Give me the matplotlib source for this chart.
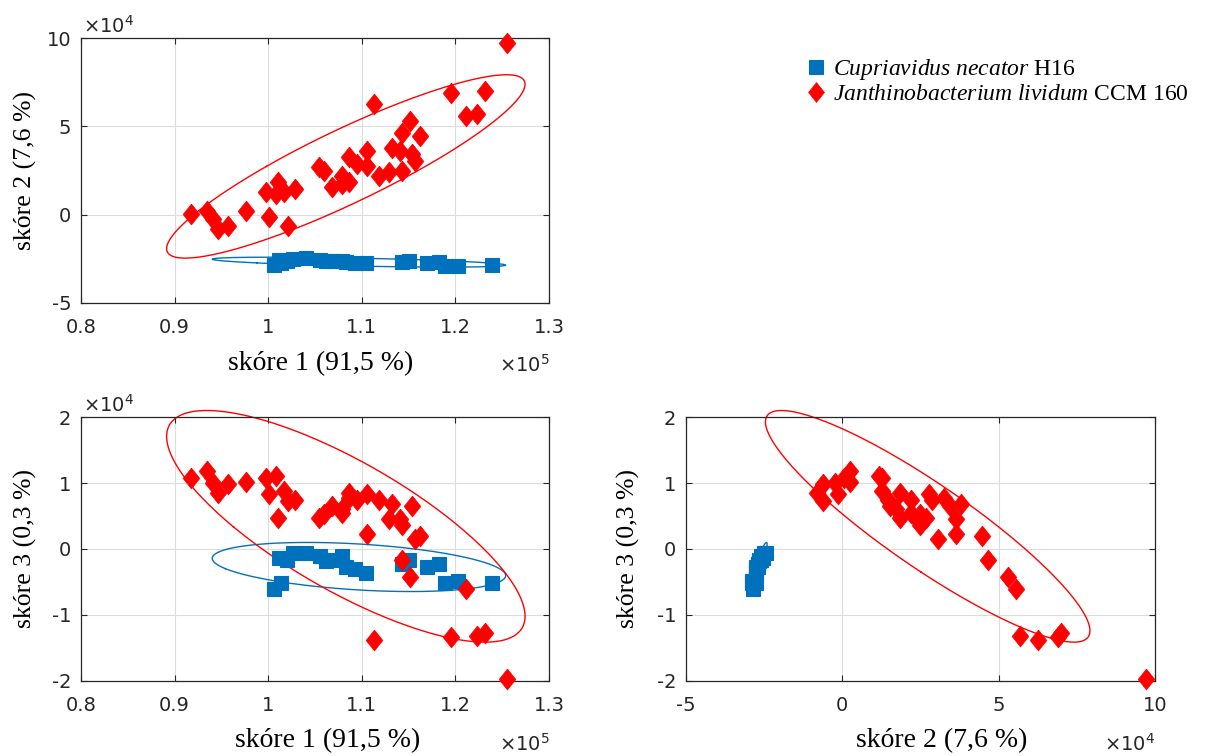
import numpy as np
import matplotlib
matplotlib.use('Agg')
import matplotlib.pyplot as plt
from matplotlib.ticker import FuncFormatter

plt.rcParams['font.family'] = ['DejaVu Sans']
plt.rcParams['xtick.labelsize'] = 14
plt.rcParams['ytick.labelsize'] = 14
plt.rcParams['mathtext.fontset'] = 'custom'
plt.rcParams['mathtext.rm'] = 'Liberation Serif'
plt.rcParams['mathtext.it'] = 'Liberation Serif:italic'
plt.rcParams['mathtext.sf'] = 'DejaVu Sans'

# score values: skore1 in 1e5 units, skore2 / skore3 in 1e4 units
# Cupriavidus necator H16
cn_s1 = [1.006, 1.014, 1.012, 1.020, 1.027, 1.040, 1.055, 1.062, 1.068, 1.079,
         1.083, 1.093, 1.104, 1.143, 1.150, 1.170, 1.182, 1.189, 1.203, 1.239]
cn_s2 = [-2.85, -2.75, -2.55, -2.60, -2.50, -2.45, -2.55, -2.65, -2.60, -2.60,
         -2.70, -2.75, -2.75, -2.70, -2.65, -2.75, -2.70, -2.90, -2.90, -2.85]
cn_s3 = [-0.61, -0.51, -0.13, -0.16, -0.06, -0.06, -0.11, -0.18, -0.16, -0.11,
         -0.28, -0.31, -0.36, -0.23, -0.16, -0.28, -0.23, -0.51, -0.49, -0.51]

# Janthinobacterium lividum CCM 160
jl_s1 = [0.918, 0.935, 0.941, 0.946, 0.957, 0.976, 0.998, 1.010, 1.008, 1.017,
         1.029, 1.001, 1.021, 1.054, 1.060, 1.068, 1.079, 1.079, 1.086, 1.086,
         1.095, 1.106, 1.106, 1.113, 1.118, 1.129, 1.132, 1.143, 1.141, 1.143,
         1.151, 1.154, 1.157, 1.162, 1.195, 1.211, 1.223, 1.232, 1.255]
jl_s2 = [0.04, 0.23, -0.24, -0.81, -0.62, 0.23, 1.26, 1.83, 1.17, 1.26,
         1.45, -0.15, -0.62, 2.67, 2.49, 1.54, 1.73, 2.20, 3.24, 1.83,
         2.86, 3.62, 2.77, 6.25, 2.20, 2.39, 3.80, 2.49, 3.62, 4.65,
         5.31, 3.43, 3.05, 4.46, 6.91, 5.56, 5.69, 6.99, 9.70]
jl_s3 = [1.07, 1.18, 1.00, 0.85, 0.98, 1.02, 1.08, 0.47, 1.11, 0.88,
         0.75, 0.83, 0.73, 0.47, 0.53, 0.65, 0.60, 0.55, 0.78, 0.85,
         0.75, 0.22, 0.83, -1.38, 0.75, 0.45, 0.68, 0.37, 0.45, -0.16,
         -0.43, 0.65, 0.15, 0.20, -1.34, -0.61, -1.32, -1.27, -1.97]

BLUE = '#0072BD'
RED = '#FF0000'
TXT = '#262626'
K_ELL = 2.18

diamond = [(0, 1), (0.8, 0), (0, -1), (-0.8, 0), (0, 1)]


def ellipse(x, y, k=K_ELL):
    x = np.asarray(x)
    y = np.asarray(y)
    cov = np.cov(x, y)
    vals, vecs = np.linalg.eigh(cov)
    t = np.linspace(0, 2 * np.pi, 300)
    circ = np.vstack([np.cos(t), np.sin(t)])
    pts = vecs @ (np.sqrt(vals)[:, None] * circ) * k
    return x.mean() + pts[0], y.mean() + pts[1]


def panel(ax, x1, y1, x2, y2):
    ex, ey = ellipse(x1, y1)
    ax.plot(ex, ey, color=BLUE, lw=1.0, zorder=2)
    ex, ey = ellipse(x2, y2)
    ax.plot(ex, ey, color=RED, lw=1.0, zorder=2)
    ax.plot(x1, y1, 's', color=BLUE, ms=10, mec=BLUE, mew=0.8, ls='none',
            zorder=3, label=r'$\mathit{Cupriavidus\ necator}$ H16')
    ax.plot(x2, y2, marker=diamond, color=RED, ms=15, mec=RED, mew=0.5, ls='none',
            zorder=3, label=r'$\mathit{Janthinobacterium\ lividum}$ CCM 160')
    ax.grid(True, color='#dcdcdc', lw=0.8)
    ax.set_axisbelow(True)
    ax.tick_params(direction='in', length=4, top=True, right=True, color=TXT,
                   labelcolor=TXT, width=0.8)
    ax.tick_params(axis='x', pad=11)
    ax.tick_params(axis='y', pad=7)
    for sp in ax.spines.values():
        sp.set_color(TXT)
        sp.set_linewidth(0.9)
    ax.xaxis.set_major_formatter(FuncFormatter(lambda v, p: '%g' % v))
    ax.yaxis.set_major_formatter(FuncFormatter(lambda v, p: '%g' % v))
    for ln in ax.lines:
        ln.set_clip_on(False)


fig = plt.figure(figsize=(12.18, 7.56), dpi=100)
W, H = 1218, 756


def add_axes(l, t, r, b):
    return fig.add_axes([l / W, 1 - b / H, (r - l) / W, (b - t) / H])


ax1 = add_axes(81, 38, 549, 303)
ax2 = add_axes(81, 417, 549, 681)
ax3 = add_axes(686, 417, 1155, 681)

xlab_font = dict(family='Liberation Serif', size=20, color='black')
ylab_font = dict(family='Liberation Serif', size=18.5, color='black')

# skore 1 vs skore 2
panel(ax1, cn_s1, cn_s2, jl_s1, jl_s2)
ax1.set_xlim(0.8, 1.3)
ax1.set_ylim(-5, 10)
ax1.set_xticks([0.8, 0.9, 1.0, 1.1, 1.2, 1.3])
ax1.set_yticks([-5, 0, 5, 10])
ax1.set_xlabel('skóre 1 (91,5 %)', fontdict=xlab_font)
ax1.set_ylabel('skóre 2 (7,6 %)', fontdict=ylab_font)

# skore 1 vs skore 3
panel(ax2, cn_s1, cn_s3, jl_s1, jl_s3)
ax2.set_xlim(0.8, 1.3)
ax2.set_ylim(-2, 2)
ax2.set_xticks([0.8, 0.9, 1.0, 1.1, 1.2, 1.3])
ax2.set_yticks([-2, -1, 0, 1, 2])
ax2.set_xlabel('skóre 1 (91,5 %)', fontdict=xlab_font)
ax2.set_ylabel('skóre 3 (0,3 %)', fontdict=ylab_font)

# skore 2 vs skore 3
panel(ax3, cn_s2, cn_s3, jl_s2, jl_s3)
ax3.set_xlim(-5, 10)
ax3.set_ylim(-2, 2)
ax3.set_xticks([-5, 0, 5, 10])
ax3.set_yticks([-2, -1, 0, 1, 2])
ax3.set_xlabel('skóre 2 (7,6 %)', fontdict=xlab_font)
ax3.set_ylabel('skóre 3 (0,3 %)', fontdict=ylab_font)

ax1.xaxis.set_label_coords(0.513, -0.18)
ax2.xaxis.set_label_coords(0.526, -0.18)
ax3.xaxis.set_label_coords(0.546, -0.18)
ax1.yaxis.set_label_coords(-0.095, 0.5)
ax2.yaxis.set_label_coords(-0.095, 0.5)
ax3.yaxis.set_label_coords(-0.098, 0.5)

# exponent labels
exp_kw = dict(fontsize=14, color=TXT)
fig.text(83 / W, 1 - 33 / H, r'$\mathsf{\times 10^{4}}$', ha='left', va='baseline', **exp_kw)
fig.text(83 / W, 1 - 412 / H, r'$\mathsf{\times 10^{4}}$', ha='left', va='baseline', **exp_kw)
fig.text(550 / W, 1 - 372 / H, r'$\mathsf{\times 10^{5}}$', ha='right', va='baseline', **exp_kw)
fig.text(550 / W, 1 - 751 / H, r'$\mathsf{\times 10^{5}}$', ha='right', va='baseline', **exp_kw)
fig.text(1155 / W, 1 - 751 / H, r'$\mathsf{\times 10^{4}}$', ha='right', va='baseline', **exp_kw)

handles, labels = ax1.get_legend_handles_labels()
fig.legend(handles, labels, loc='upper left', bbox_to_anchor=(795 / W, 1 - 45 / H),
           frameon=False, prop={'family': 'Liberation Serif', 'size': 17},
           handlelength=0.8, handletextpad=0.3, labelspacing=0.08, borderpad=0,
           markerscale=0.95)

fig.savefig('out.png', dpi=100)
